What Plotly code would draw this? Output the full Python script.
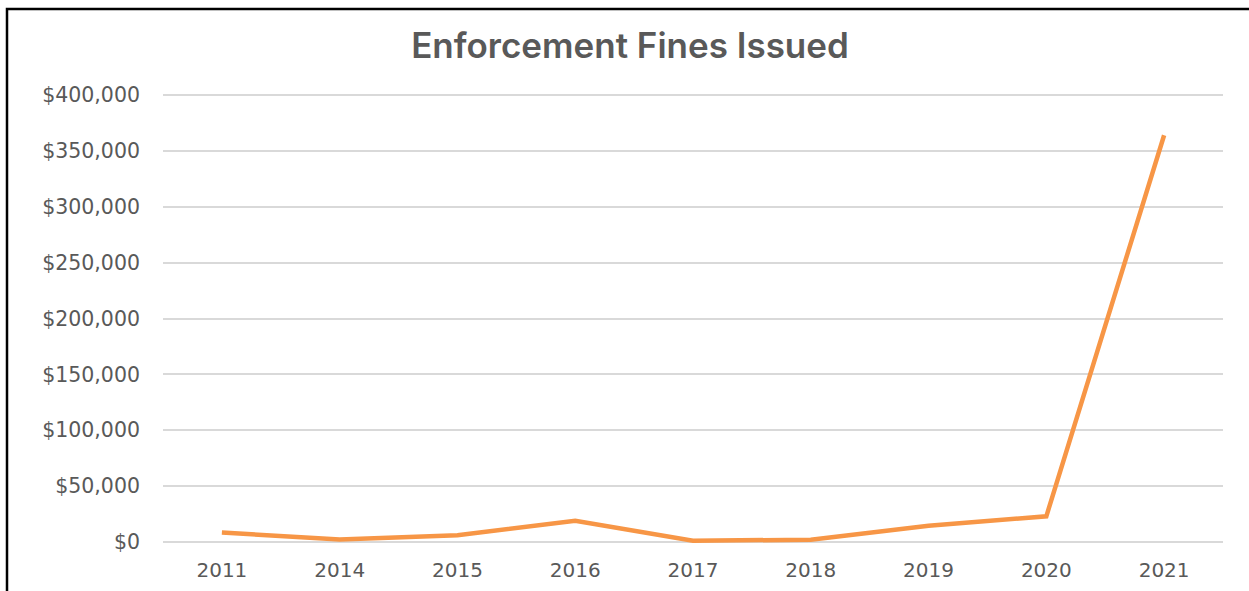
import plotly.graph_objects as go

# Enforcement fines issued per year (USD)
years = ["2011", "2014", "2015", "2016", "2017", "2018", "2019", "2020", "2021"]
fines = [8500, 2200, 6000, 19000, 1200, 2000, 14500, 23000, 364000]

y_tick_values = [0, 50000, 100000, 150000, 200000, 250000, 300000, 350000, 400000]
y_tick_labels = ["$0", "$50,000", "$100,000", "$150,000", "$200,000",
                 "$250,000", "$300,000", "$350,000", "$400,000"]

TEXT_GREY = "#595959"
GRID_GREY = "#D9D9D9"
ORANGE = "#F79646"
FONT = "DejaVu Sans"

fig = go.Figure()
fig.add_trace(go.Scatter(
    x=years,
    y=fines,
    mode="lines",
    line=dict(color=ORANGE, width=4.5),
    hoverinfo="x+y",
))

W, H = 1249, 591
# pixel frame of the plotting area (integer margins)
plot_left, plot_right = 163, 1223
plot_top, plot_bottom = 92, 546
# gridline for $400,000 sits at y=95px and $0 at y=542px
px_per_unit = (542 - 95) / 400000
y_min = -(plot_bottom - 542) / px_per_unit
y_max = 400000 + (95 - plot_top) / px_per_unit

fig.update_layout(
    width=W,
    height=H,
    paper_bgcolor="white",
    plot_bgcolor="white",
    showlegend=False,
    margin=dict(l=plot_left, r=W - plot_right, t=plot_top, b=H - plot_bottom,
                autoexpand=False),
    title=dict(
        text="Enforcement Fines Issued",
        x=630 / W,
        xanchor="center",
        xref="container",
        y=1 - 46 / H,
        yanchor="middle",
        yref="container",
        automargin=False,
        font=dict(family="Inter", size=35, color=TEXT_GREY, weight=600),
    ),
    font=dict(family=FONT, color=TEXT_GREY),
)

fig.update_xaxes(
    type="category",
    range=[-0.5, len(years) - 0.5],
    automargin=False,
    showgrid=False,
    showline=False,
    zeroline=False,
    ticks="",
    tickfont=dict(family=FONT, size=20, color=TEXT_GREY),
    ticklabelstandoff=10,
)

fig.update_yaxes(
    range=[y_min, y_max],
    automargin=False,
    tickmode="array",
    tickvals=y_tick_values,
    ticktext=y_tick_labels,
    showgrid=True,
    gridcolor=GRID_GREY,
    gridwidth=1.5,
    zeroline=False,
    showline=False,
    ticks="",
    tickfont=dict(family=FONT, size=20.5, color=TEXT_GREY),
    ticklabelstandoff=22,
)

# Frame line along the top and left edges of the chart area
fx0 = (7 - plot_left) / (plot_right - plot_left)
fx1 = (W + 20 - plot_left) / (plot_right - plot_left)
fy_top = (plot_bottom - 9) / (plot_bottom - plot_top)
fy_bot = (plot_bottom - (H + 20)) / (plot_bottom - plot_top)
fig.add_shape(
    type="rect",
    xref="paper", yref="paper",
    x0=fx0, x1=fx1, y0=fy_bot, y1=fy_top,
    line=dict(color="black", width=2.5),
    fillcolor="rgba(0,0,0,0)",
    layer="above",
)

fig.write_html("out.html")
